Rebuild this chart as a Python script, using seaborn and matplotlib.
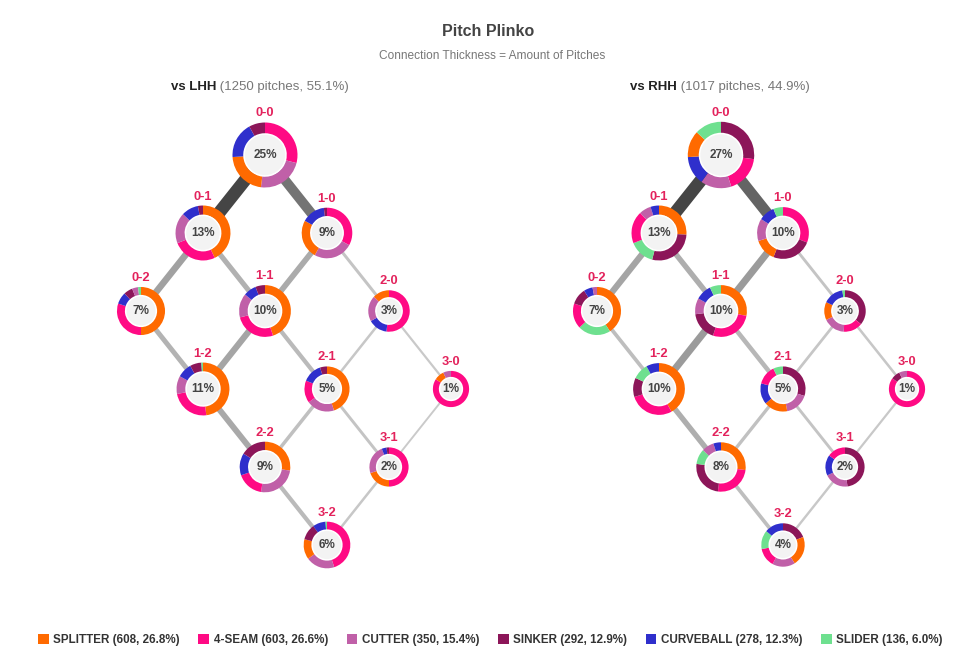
import matplotlib
matplotlib.use("Agg")
import matplotlib.pyplot as plt
from matplotlib.patches import Wedge, Circle, Patch
from matplotlib import font_manager
import seaborn as sns

# ── Data ──────────────────────────────────────────────────────────────────────
PITCHES      = ["SPLITTER", "4-SEAM", "CUTTER", "SINKER", "CURVEBALL", "SLIDER"]
PITCH_CODES  = ["SP", "FF", "CT", "SI", "CU", "SL"]
PITCH_TOTALS = [608, 603, 350, 292, 278, 136]
PITCH_SHARE  = [26.8, 26.6, 15.4, 12.9, 12.3, 6.0]
PITCH_COLORS = ["#ff6a00", "#ff0a84", "#c060a8", "#8c1659", "#2f2fcc", "#6ee08f"]

COUNTS = ["0-0", "0-1", "1-0", "0-2", "1-1", "2-0",
          "1-2", "2-1", "3-0", "2-2", "3-1", "3-2"]

LHH_PCT = [25, 13, 9, 7, 10, 3, 11, 5, 1, 9, 2, 6]
RHH_PCT = [27, 13, 10, 7, 10, 3, 10, 5, 1, 8, 2, 4]

# pitch mix per count, clockwise from 12 o'clock
LHH_MIX_CODES = [
    ["FF", "CT", "SP", "CU", "SI"],
    ["SP", "FF", "CT", "CU", "SI"],
    ["FF", "CT", "SP", "CU", "SI"],
    ["SP", "FF", "CU", "SI", "CT", "SL"],
    ["SP", "FF", "CT", "CU", "SI"],
    ["FF", "CU", "CT", "SP"],
    ["SP", "FF", "CT", "CU", "SI", "SL"],
    ["SP", "CT", "FF", "CU", "SI"],
    ["FF", "SP", "CT"],
    ["SP", "CT", "FF", "CU", "SI"],
    ["FF", "SP", "CT", "CU", "SI"],
    ["FF", "CT", "SP", "SI", "CU", "SL"],
]
LHH_MIX_SHARE = [
    [29, 23, 22, 18, 8],
    [43, 26, 18, 10, 3],
    [33, 25, 25, 15, 2],
    [50, 30, 8, 6, 4, 2],
    [45, 26, 15, 8, 6],
    [52, 15, 20, 13],
    [48, 24, 11, 9, 7, 1],
    [45, 20, 16, 14, 5],
    [84, 9, 7],
    [27, 25, 17, 14, 16],
    [50, 20, 24, 4, 2],
    [45, 20, 14, 11, 9, 1],
]

RHH_MIX_CODES = [
    ["SI", "FF", "CT", "CU", "SP", "SL"],
    ["SP", "SI", "SL", "FF", "CT", "CU"],
    ["FF", "SI", "SP", "CT", "CU", "SL"],
    ["SP", "SL", "FF", "SI", "CU", "CT"],
    ["SP", "FF", "SI", "CT", "CU", "SL"],
    ["SI", "FF", "CT", "SP", "CU", "SL"],
    ["SP", "FF", "SI", "SL", "CU"],
    ["SI", "CT", "SP", "CU", "FF", "SL"],
    ["FF", "SI", "CT"],
    ["SP", "FF", "SI", "SL", "CT", "CU"],
    ["SI", "CT", "CU", "FF"],
    ["SI", "SP", "CT", "FF", "SL", "CU"],
]
RHH_MIX_SHARE = [
    [27, 18, 15, 14, 13, 13],
    [26, 28, 15, 19, 7, 5],
    [31, 25, 14, 14, 10, 6],
    [41, 22, 17, 11, 6, 3],
    [28, 27, 18, 10, 10, 7],
    [36, 15, 17, 14, 16, 2],
    [42, 28, 12, 10, 8],
    [30, 17, 17, 15, 14, 7],
    [85, 8, 7],
    [27, 25, 25, 10, 8, 5],
    [48, 20, 17, 15],
    [19, 22, 17, 14, 14, 14],
]

EDGES = [("0-0", "0-1"), ("0-0", "1-0"), ("0-1", "0-2"), ("0-1", "1-1"),
         ("1-0", "1-1"), ("1-0", "2-0"), ("0-2", "1-2"), ("1-1", "1-2"),
         ("1-1", "2-1"), ("2-0", "2-1"), ("2-0", "3-0"), ("1-2", "2-2"),
         ("2-1", "2-2"), ("2-1", "3-1"), ("3-0", "3-1"), ("2-2", "3-2"),
         ("3-1", "3-2")]
LHH_FLOW = [160, 120, 75, 55, 62, 25, 52, 70, 42, 18, 14, 65, 32, 24, 10, 42, 18]
RHH_FLOW = [137, 115, 60, 50, 70, 20, 30, 70, 40, 18, 16, 50, 25, 20, 12, 30, 14]

# ── Style ─────────────────────────────────────────────────────────────────────
sns.set_theme(style="white")
names = {f.name for f in font_manager.fontManager.ttflist}
BASE_FONT = "Liberation Sans" if "Liberation Sans" in names else "DejaVu Sans"
plt.rcParams["font.family"] = [BASE_FONT, "DejaVu Sans"]

W, H, DPI = 977, 671, 100
U  = 62.0          # px per half column
DY = 78.0 / U      # row step in half-column units
PX = 1.0 / U       # one pixel in data units
LABEL_RED = "#e3225c"

palette = dict(zip(PITCH_CODES, sns.color_palette(PITCH_COLORS)))


def node_xy(count):
    b, s = (int(v) for v in count.split("-"))
    return (b - s), -(b + s) * DY


def radius_px(pct):
    return 14.5 + 3.6 * pct ** 0.5


def draw_panel(fig, cx, cy, pcts, mix_codes, mix_share, flows):
    x_lo, x_hi = -3.6, 3.6
    y_lo, y_hi = -5 * DY - 0.9, 1.0
    ax = fig.add_axes([(cx + x_lo * U) / W,
                       (H - (cy - y_lo * U)) / H,
                       (x_hi - x_lo) * U / W,
                       (y_hi - y_lo) * U / H])
    ax.set_xlim(x_lo, x_hi)
    ax.set_ylim(y_lo, y_hi)
    ax.axis("off")

    fmax = max(flows)
    for (a, b), f in zip(EDGES, flows):
        xa, ya = node_xy(a)
        xb, yb = node_xy(b)
        frac = f / fmax
        width_px = 1.2 + 11.5 * frac
        grey = 0.80 - 0.53 * frac ** 1.5
        ax.plot([xa, xb], [ya, yb], color=(grey, grey, grey),
                lw=width_px * 72 / DPI, solid_capstyle="butt", zorder=1)

    for count, pct, codes, shares in zip(COUNTS, pcts, mix_codes, mix_share):
        x, y = node_xy(count)
        r = radius_px(pct)
        ring = 0.33 * r
        total = sum(shares)
        start = 0.0
        for code, sh in zip(codes, shares):
            end = start + 360.0 * sh / total
            ax.add_patch(Wedge((x, y), r * PX, 90 - end, 90 - start,
                               width=ring * PX, facecolor=palette[code],
                               edgecolor="none", zorder=3))
            start = end
        ax.add_patch(Circle((x, y), (r - ring + 0.3) * PX,
                            facecolor="white", edgecolor="none", zorder=2))
        ax.add_patch(Circle((x, y), (r - ring - 1.6) * PX,
                            facecolor="#f3f3f3", edgecolor="none", zorder=4))
        ax.text(x, y, f"{pct}%", ha="center", va="center", fontsize=8.5,
                fontweight="bold", color="#444444", zorder=5)
        ax.text(x, y + (r + 9) * PX, count, ha="center", va="center",
                fontsize=9.3, fontweight="bold", color=LABEL_RED, zorder=5)
    return ax


def panel_title(fig, renderer, cx, y, bold, rest):
    size = 9.5
    t1 = fig.text(0, 1 - y / H, bold, fontsize=size, fontweight="bold",
                  color="#222222", va="center")
    t2 = fig.text(0, 1 - y / H, rest, fontsize=size, color="#777777",
                  va="center")
    w1 = t1.get_window_extent(renderer).width
    w2 = t2.get_window_extent(renderer).width
    left = cx - (w1 + w2) / 2
    t1.set_x(left / W)
    t2.set_x((left + w1) / W)


# ── Figure ────────────────────────────────────────────────────────────────────
fig = plt.figure(figsize=(W / DPI, H / DPI), dpi=DPI)
fig.patch.set_facecolor("white")
renderer = fig.canvas.get_renderer()

draw_panel(fig, 265, 155, LHH_PCT, LHH_MIX_CODES, LHH_MIX_SHARE, LHH_FLOW)
draw_panel(fig, 721, 155, RHH_PCT, RHH_MIX_CODES, RHH_MIX_SHARE, RHH_FLOW)

fig.text(488 / W, 1 - 32 / H, "Pitch Plinko", ha="center", va="center",
         fontsize=11.5, fontweight="bold", color="#444444")
fig.text(492 / W, 1 - 56 / H, "Connection Thickness = Amount of Pitches",
         ha="center", va="center", fontsize=8.6, color="#777777")

panel_title(fig, renderer, 260, 87, "vs LHH", " (1250 pitches, 55.1%)")
panel_title(fig, renderer, 720, 87, "vs RHH", " (1017 pitches, 44.9%)")

handles = [Patch(facecolor=c, edgecolor="none") for c in PITCH_COLORS]
labels = [f"{p} ({n}, {s:.1f}%)" for p, n, s in zip(PITCHES, PITCH_TOTALS, PITCH_SHARE)]
leg = fig.legend(handles, labels, loc="center", bbox_to_anchor=(0.502, 1 - 640 / H),
                 ncol=6, frameon=False, handlelength=0.9,
                 handleheight=0.9, handletextpad=0.4, columnspacing=1.6,
                 prop={"size": 8.4, "weight": "bold"})
for t in leg.get_texts():
    t.set_color("#333333")

fig.savefig("out.png", dpi=DPI, facecolor="white")
